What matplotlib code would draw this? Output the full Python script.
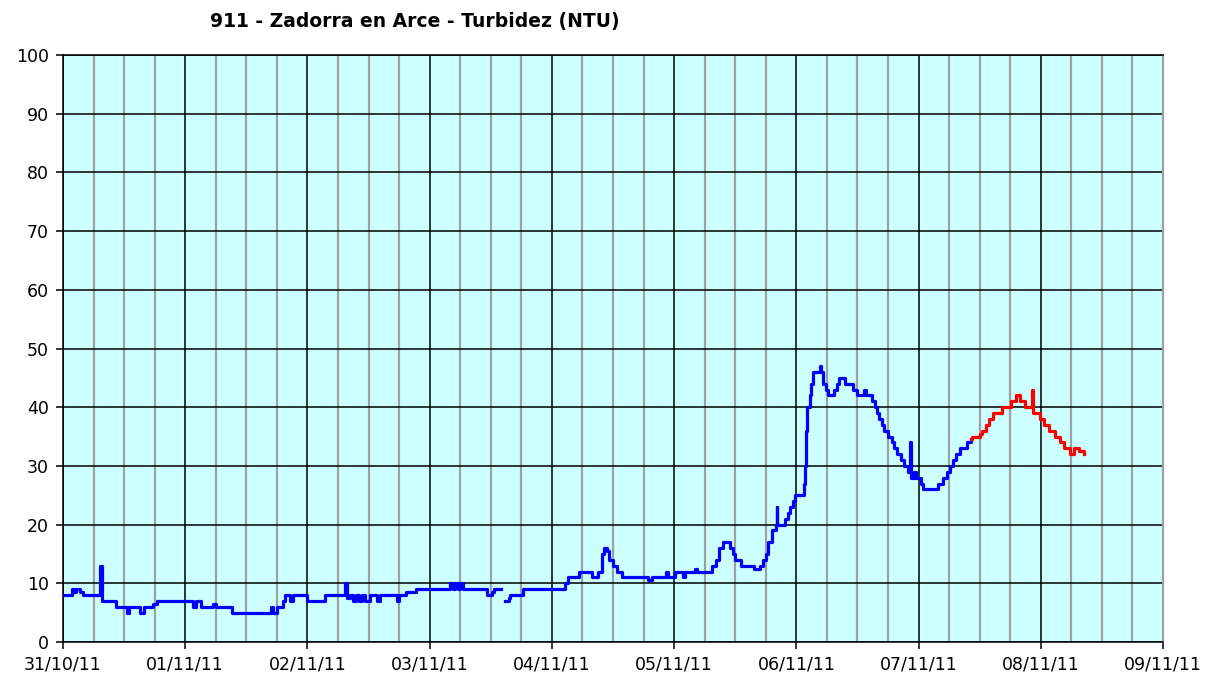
import numpy as np
import pandas as pd
import matplotlib
matplotlib.use("Agg")
import matplotlib.pyplot as plt
import matplotlib.dates as mdates

# Turbidity readings, time in days since 31/10/11 00:00
blue_days = [0.00, 0.07, 0.09, 0.11, 0.14, 0.16, 0.30, 0.315, 0.32, 0.43, 0.52, 0.54, 0.63, 0.66,
             0.74, 0.77, 1.06, 1.09, 1.13, 1.23, 1.25, 1.38, 1.70, 1.72, 1.75, 1.80, 1.82, 1.86,
             1.88, 2.00, 2.14, 2.31, 2.325, 2.35, 2.37, 2.40, 2.42, 2.45, 2.47, 2.51, 2.57, 2.59,
             2.73, 2.75, 2.81, 2.89, 3.17, 3.19, 3.21, 3.23, 3.25, 3.27, 3.47, 3.51, 3.53, 3.585,
             3.62, 3.65, 3.66, 3.76, 4.11, 4.13, 4.22, 4.33, 4.38, 4.41, 4.43, 4.45, 4.47, 4.50,
             4.53, 4.57, 4.79, 4.82, 4.93, 4.95, 5.01, 5.07, 5.09, 5.17, 5.19, 5.31, 5.34, 5.37,
             5.40, 5.46, 5.48, 5.50, 5.55, 5.65, 5.70, 5.73, 5.75, 5.77, 5.80, 5.83, 5.84, 5.845,
             5.91, 5.93, 5.95, 5.97, 5.99, 6.06, 6.07, 6.08, 6.09, 6.11, 6.12, 6.14, 6.19, 6.20,
             6.22, 6.24, 6.26, 6.31, 6.33, 6.35, 6.40, 6.46, 6.50, 6.55, 6.57, 6.62, 6.64, 6.66,
             6.68, 6.70, 6.72, 6.75, 6.78, 6.80, 6.82, 6.86, 6.88, 6.91, 6.93, 6.935, 6.96, 6.98,
             7.02, 7.04, 7.16, 7.20, 7.23, 7.26, 7.28, 7.31, 7.34, 7.40, 7.43]
blue_vals = [8, 9, 8.5, 9, 8.5, 8, 13, 8, 7, 6, 5, 6, 5, 6,
             6.5, 7, 6, 7, 6, 6.5, 6, 5, 6, 5, 6, 7, 8, 7,
             8, 7, 8, 10, 7.5, 8, 7, 8, 7, 8, 7, 8, 7, 8,
             7, 8, 8.5, 9, 10, 9, 10, 9, 10, 9, 8, 8.5, 9, np.nan,
             7, 7.5, 8, 9, 10, 11, 12, 11, 12, 15, 16, 15.5, 14, 13,
             12, 11, 10.5, 11, 12, 11, 12, 11, 12, 12.5, 12, 13, 14, 16,
             17, 16, 15, 14, 13, 12.5, 13, 14, 15, 17, 19, 20, 23, 20,
             21, 22, 23, 24, 25, 27, 30, 36, 40, 42, 44, 46, 47, 46,
             44, 43, 42, 43, 44, 45, 44, 43, 42, 43, 42, 41, 40, 39,
             38, 37, 36, 35, 34, 33, 32, 31, 30, 29, 34, 28, 29, 28,
             27, 26, 27, 28, 29, 30, 31, 32, 33, 34, 34.5]

red_days = [7.43, 7.44, 7.50, 7.52, 7.55, 7.58, 7.61, 7.68, 7.76, 7.80, 7.83, 7.87, 7.925,
            7.935, 7.99, 8.03, 8.07, 8.12, 8.16, 8.19, 8.24, 8.27, 8.31, 8.35]
red_vals = [34.5, 35, 35.5, 36, 37, 38, 39, 40, 41, 42, 41, 40, 43,
            39, 38, 37, 36, 35, 34, 33, 32, 33, 32.5, 32]

start = pd.Timestamp("2011-10-31")
blue_t = start + pd.to_timedelta(blue_days, unit="D")
red_t = start + pd.to_timedelta(red_days, unit="D")

fig = plt.figure(figsize=(12.08, 6.77), dpi=100)
ax = fig.add_axes([63 / 1208, 35 / 677, 1100 / 1208, 587 / 677])
ax.set_facecolor("#CCFFFF")

ax.plot(blue_t, blue_vals, color="#0000FF", lw=2.3, drawstyle="steps-post", zorder=3)
ax.plot(red_t, red_vals, color="#FF0000", lw=2.3, drawstyle="steps-post", zorder=3)

ax.set_xlim(start, start + pd.Timedelta(days=9))
ax.set_ylim(0, 100)
ax.set_yticks(range(0, 101, 10))

ax.xaxis.set_major_locator(mdates.DayLocator())
ax.xaxis.set_major_formatter(mdates.DateFormatter("%d/%m/%y"))
ax.xaxis.set_minor_locator(mdates.HourLocator(byhour=[6, 12, 18]))

ax.grid(which="major", color="black", lw=1.1)
ax.grid(which="minor", axis="x", color="#A0A0A0", lw=1.6)
ax.set_axisbelow(True)

ax.tick_params(which="major", direction="out", length=5, width=1.1, color="black",
               labelsize=12.5, pad=5)
ax.tick_params(which="minor", length=0)
for s in ["left", "bottom", "top"]:
    ax.spines[s].set_color("black")
    ax.spines[s].set_linewidth(1.1)
ax.spines["right"].set_color("#A0A0A0")
ax.spines["right"].set_linewidth(1.6)

fig.text(415 / 1208, 1 - 22 / 677, "911 - Zadorra en Arce - Turbidez (NTU)",
         ha="center", va="center", fontsize=13.5, fontweight="bold")

fig.savefig("out.png", dpi=100)
